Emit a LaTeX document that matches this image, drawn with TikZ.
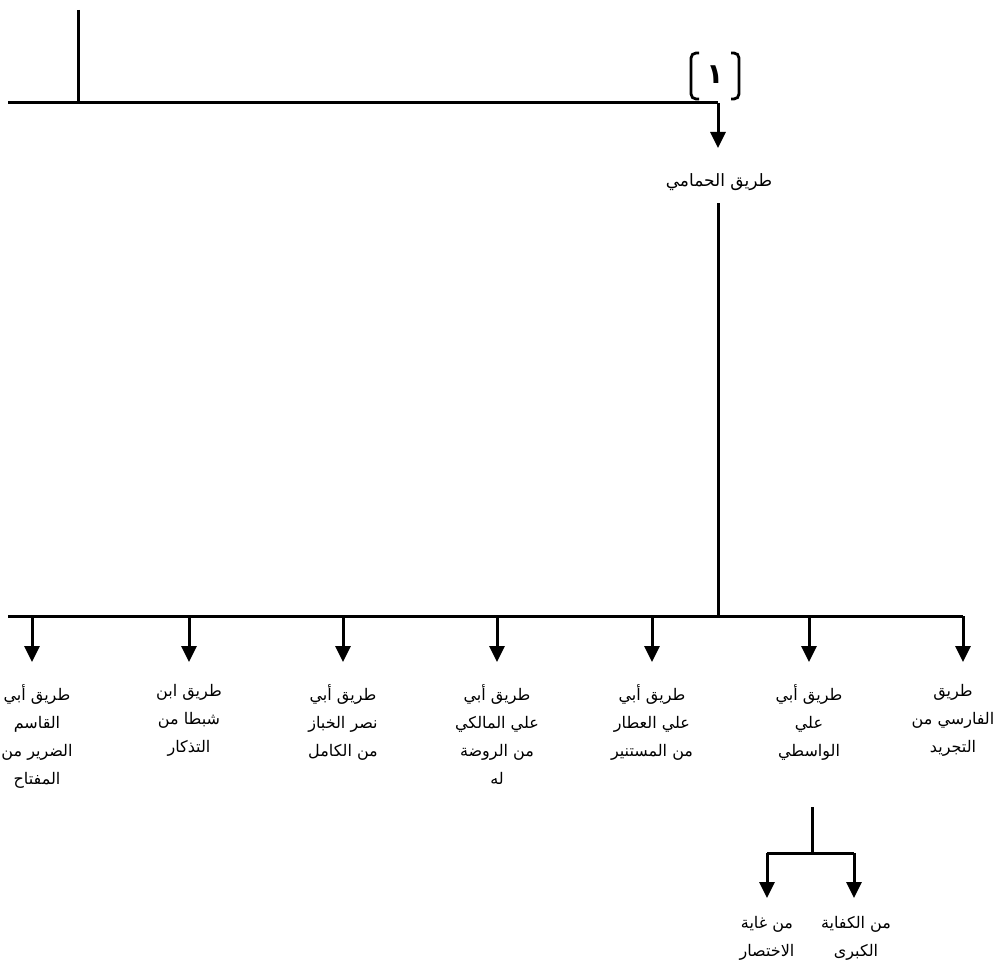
\documentclass[tikz,border=0pt]{standalone}
\usepackage{fontspec}
\usetikzlibrary{arrows.meta}
\TeXXeTstate=1
\newfontfamily\arabicfont[Script=Arabic]{DejaVu Sans}
\newcommand{\artxt}[1]{\beginR #1\endR}
\tikzset{
  conn/.style={line width=3pt},
  arr/.style={line width=3pt,-{Triangle[width=15pt,length=16pt]}},
  lbl/.style={font=\arabicfont\fontsize{16}{28}\selectfont,align=center,inner sep=0pt,anchor=north},
}
\begin{document}
\begin{tikzpicture}[x=1pt,y=-1pt]
\useasboundingbox[fill=white] (0,0) rectangle (996,971);
% top part
\coordinate (a0) at (78,10);
\coordinate (a1) at (78,103);
\coordinate (L) at (8,103);
\coordinate (J) at (718,103);
\coordinate (Jt) at (718,148);
\draw[conn] (a0) -- (a1);
\draw[conn] (L) -- (J);
\draw[arr] (J) -- (Jt);
% bracket number
\node[font=\arabicfont\bfseries\fontsize{28}{30}\selectfont,inner sep=0pt] (num) at (715,75) {\artxt{١}};
\draw[line width=2.8pt,rounded corners=5pt] (699,53) -- (691,53) -- (691,99) -- (699,99);
\draw[line width=2.8pt,rounded corners=5pt] (731,53) -- (739,53) -- (739,99) -- (731,99);
% main node
\node[font=\arabicfont\fontsize{17}{20}\selectfont,inner sep=0pt] (ham) at (719,182) {\artxt{طريق الحمامي}};
\coordinate (B0) at (718,203);
\coordinate (B) at (718,616);
\draw[conn] (B0) -- (B);
\coordinate (BL) at (8,616);
\coordinate (BR) at (963,616);
\draw[conn] (BL) -- (BR);
% columns
\foreach \i/\x in {1/32,2/189,3/343,4/497,5/652,6/809,7/963}{
  \coordinate (t\i) at (\x,616);
  \coordinate (e\i) at (\x,662);
  \draw[arr] (t\i) -- (e\i);
}
\node[lbl] (c1) at (37,684) {\artxt{طريق أبي}\\\artxt{القاسم}\\\artxt{الضرير من}\\\artxt{المفتاح}};
\node[lbl] (c2) at (189,684) {\artxt{طريق ابن}\\\artxt{شبطا من}\\\artxt{التذكار}};
\node[lbl] (c3) at (343,684) {\artxt{طريق أبي}\\\artxt{نصر الخباز}\\\artxt{من الكامل}};
\node[lbl] (c4) at (497,684) {\artxt{طريق أبي}\\\artxt{علي المالكي}\\\artxt{من الروضة}\\\artxt{له}};
\node[lbl] (c5) at (652,684) {\artxt{طريق أبي}\\\artxt{علي العطار}\\\artxt{من المستنير}};
\node[lbl] (c6) at (809,684) {\artxt{طريق أبي}\\\artxt{علي}\\\artxt{الواسطي}};
\node[lbl] (c7) at (953,684) {\artxt{طريق}\\\artxt{الفارسي من}\\\artxt{التجريد}};
% sub tree
\coordinate (s0) at (812,807);
\coordinate (s1) at (812,853);
\coordinate (sl) at (767,853);
\coordinate (sr) at (854,853);
\coordinate (sle) at (767,898);
\coordinate (sre) at (854,898);
\draw[conn] (s0) -- (s1);
\draw[conn] (sl) -- (sr);
\draw[arr] (sl) -- (sle);
\draw[arr] (sr) -- (sre);
\node[lbl] (d1) at (767,916) {\artxt{من غاية}\\\artxt{الاختصار}};
\node[lbl] (d2) at (856,916) {\artxt{من الكفاية}\\\artxt{الكبرى}};
\end{tikzpicture}
\end{document}
